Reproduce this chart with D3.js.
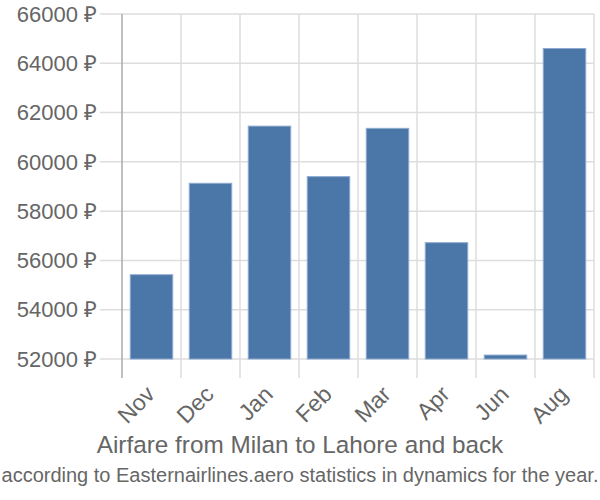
<!DOCTYPE html>
<html>
<head>
<meta charset="utf-8">
<script src="https://cdn.jsdelivr.net/npm/d3@7"></script>
<style>
  body { margin: 0; background: #fff; }
  text { font-family: "Liberation Sans", Arial, sans-serif; fill: #666; }
</style>
</head>
<body>
<div id="chart"></div>
<script>
// Data
const months = ["Nov", "Dec", "Jan", "Feb", "Mar", "Apr", "Jun", "Aug"];
const prices = [55420, 59130, 61450, 59400, 61360, 56720, 52160, 64600];
const yTicks = [52000, 54000, 56000, 58000, 60000, 62000, 64000, 66000];

const W = 600, H = 500;
const plotLeft = 122, plotRight = 594, plotTop = 14, base = 359, axisBottom = 378;

const svg = d3.select("#chart").append("svg")
    .attr("width", W)
    .attr("height", H);

const x = d3.scaleBand()
    .domain(months)
    .range([plotLeft, plotRight])
    .paddingInner(0.28)
    .paddingOuter(0.14);

const y = d3.scaleLinear()
    .domain([52000, 66000])
    .range([base, plotTop]);

// horizontal grid + tick labels
const yAxis = svg.append("g");
yAxis.selectAll("line")
    .data(yTicks)
    .enter().append("line")
    .attr("x1", 100)
    .attr("x2", plotRight)
    .attr("y1", d => y(d))
    .attr("y2", d => y(d))
    .attr("stroke", "#ddd")
    .attr("stroke-width", 1.5);

yAxis.selectAll("text")
    .data(yTicks)
    .enter().append("text")
    .attr("x", 97)
    .attr("y", d => y(d))
    .attr("dy", "0.35em")
    .attr("text-anchor", "end")
    .style("font-size", "22px")
    .text(d => d + " ₽");

// vertical grid at band boundaries
const step = x.step();
const bounds = months.map((m, i) => plotLeft + i * step).concat([plotRight]);
svg.append("g").selectAll("line")
    .data(bounds)
    .enter().append("line")
    .attr("x1", d => d)
    .attr("x2", d => d)
    .attr("y1", plotTop)
    .attr("y2", axisBottom)
    .attr("stroke", (d, i) => i === 0 ? "#aaa" : "#ddd")
    .attr("stroke-width", 1.5);

// bars
svg.append("g").selectAll("rect")
    .data(months)
    .enter().append("rect")
    .attr("x", d => x(d))
    .attr("width", x.bandwidth())
    .attr("y", (d, i) => y(prices[i]))
    .attr("height", (d, i) => y(52000) - y(prices[i]))
    .attr("fill", "#4a77a8")
    .attr("stroke", "#8eaad0")
    .attr("stroke-width", 1);

// month labels
svg.append("g").selectAll("text")
    .data(months)
    .enter().append("text")
    .attr("transform", d => `translate(${x(d) + x.bandwidth() / 2 - 1},${axisBottom + 12}) rotate(-45)`)
    .attr("text-anchor", "end")
    .attr("dy", "0.35em")
    .style("font-size", "23px")
    .text(d => d);

// Title & subtitle
svg.append("text")
    .attr("x", W / 2)
    .attr("y", 453)
    .attr("text-anchor", "middle")
    .style("font-size", "24.3px")
    .text("Airfare from Milan to Lahore and back");

svg.append("text")
    .attr("x", W / 2)
    .attr("y", 482)
    .attr("text-anchor", "middle")
    .style("font-size", "20px")
    .text("according to Easternairlines.aero statistics in dynamics for the year.");
</script>
</body>
</html>
